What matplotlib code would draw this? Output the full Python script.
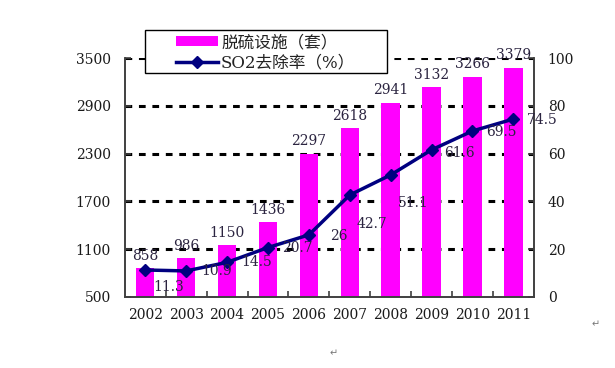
import matplotlib
matplotlib.use("Agg")
import matplotlib.pyplot as plt
from matplotlib.patches import Rectangle

years = ['2002', '2003', '2004', '2005', '2006', '2007', '2008', '2009', '2010', '2011']
facilities = [858, 986, 1150, 1436, 2297, 2618, 2941, 3132, 3266, 3379]
so2_removal = [11.3, 10.9, 14.5, 20.7, 26, 42.7, 51.1, 61.6, 69.5, 74.5]
rate_labels = ['11.3', '10.9', '14.5', '20.7', '26', '42.7', '51.1', '61.6', '69.5', '74.5']

# label offsets for the line (points)
rate_offsets = [(6, -12), (11, 0), (10, 0), (10, 0), (15, -1), (5, -21), (5, -20), (9, -2), (10, -1), (10, -1)]

plt.rcParams['font.family'] = ['DejaVu Serif', 'Noto Sans CJK SC']
num_color = '#2b2440'

fig = plt.figure(figsize=(6.15, 3.68), dpi=100)
ax = fig.add_axes([0.203, 0.193, 0.665, 0.649])
ax2 = ax.twinx()

x = list(range(len(years)))
bars = ax.bar(x, facilities, width=0.45, color='#ff00ff', zorder=2)
ax.set_ylim(500, 3500)
ax.set_xlim(-0.5, len(years) - 0.5)
ax.set_yticks([500, 1100, 1700, 2300, 2900, 3500])
ax.set_xticks(x)
ax.set_xticklabels(years)
for yv in [1100, 1700, 2300, 2900, 3500]:
    ax.axhline(yv, color='black', linestyle=(0, (2.2, 2.2)), linewidth=2.2, zorder=1)

for xi, v in zip(x, facilities):
    ax.annotate(str(v), (xi, v), xytext=(0, 4), textcoords='offset points',
                ha='center', va='bottom', fontsize=10, color=num_color)

line, = ax2.plot(x, so2_removal, color='#000080', linewidth=2.5, marker='D',
                 markersize=6.5, zorder=3)
ax2.set_ylim(0, 100)
ax2.set_yticks([0, 20, 40, 60, 80, 100])
for xi, v, lab, off in zip(x, so2_removal, rate_labels, rate_offsets):
    ax2.annotate(lab, (xi, v), xytext=off, textcoords='offset points',
                 ha='left', va='center', fontsize=10, color=num_color)

for a in (ax, ax2):
    a.spines['top'].set_visible(False)
    for s in ['left', 'right', 'bottom']:
        a.spines[s].set_color('#404040')
        a.spines[s].set_linewidth(1.2)
    a.tick_params(direction='in', length=4, width=1.2, labelsize=10, colors='#404040',
                  labelcolor='#1a1a1a')
ax.tick_params(axis='y', pad=10)
ax2.tick_params(axis='y', pad=10)
ax.tick_params(axis='x', length=0, pad=8)
ax.set_xticks([i + 0.5 for i in x[:-1]], minor=True)
ax.tick_params(axis='x', which='minor', direction='in', length=4, width=1.2, colors='#404040')

# legend frame drawn by hand, the legend itself sits inside it
box = Rectangle((145 / 615, 1 - 73 / 368), 242 / 615, 43 / 368, transform=fig.transFigure,
                facecolor='white', edgecolor='black', linewidth=1.0, zorder=4)
fig.patches.append(box)
leg = fig.legend([bars, line], ['脱硫设施（套）', 'SO2去除率（%）'],
                 loc='upper left', bbox_to_anchor=(176 / 615, 1 - 34 / 368),
                 fontsize=12, frameon=False,
                 handlelength=2.5, handleheight=0.6, labelspacing=0.2,
                 borderpad=0, handletextpad=0.2, borderaxespad=0)
leg.set_zorder(5)
for t in leg.get_texts():
    t.set_color('#222222')

fig.text(592 / 615, 1 - 324 / 368, '↵', fontsize=7, color='#777777', family='DejaVu Sans',
         ha='left', va='center')
fig.text(330 / 615, 1 - 353 / 368, '↵', fontsize=7, color='#777777', family='DejaVu Sans',
         ha='left', va='center')

fig.savefig('out.png', dpi=100)
